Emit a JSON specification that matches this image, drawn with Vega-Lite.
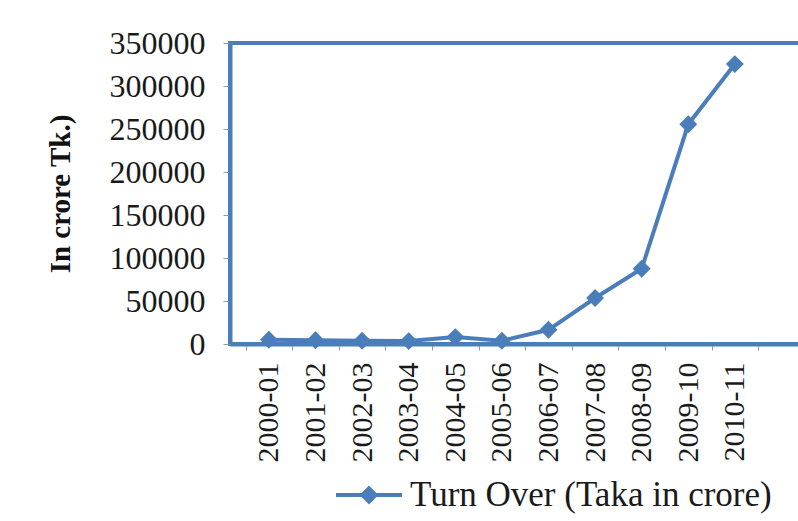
{
  "$schema": "https://vega.github.io/schema/vega-lite/v6.json",
  "autosize": "none",
  "padding": {"left": 230, "top": 43, "right": 0, "bottom": 177},
  "width": 575,
  "height": 301,
  "background": "white",
  "config": {
    "view": {"stroke": "#4a7ebb", "strokeWidth": 4},
    "font": "Liberation Serif"
  },
  "data": {
    "values": [
      {"year": "2000-01", "turnover": 5000, "series": "Turn Over (Taka in crore)"},
      {"year": "2001-02", "turnover": 4400, "series": "Turn Over (Taka in crore)"},
      {"year": "2002-03", "turnover": 3800, "series": "Turn Over (Taka in crore)"},
      {"year": "2003-04", "turnover": 3400, "series": "Turn Over (Taka in crore)"},
      {"year": "2004-05", "turnover": 8000, "series": "Turn Over (Taka in crore)"},
      {"year": "2005-06", "turnover": 3800, "series": "Turn Over (Taka in crore)"},
      {"year": "2006-07", "turnover": 16500, "series": "Turn Over (Taka in crore)"},
      {"year": "2007-08", "turnover": 53500, "series": "Turn Over (Taka in crore)"},
      {"year": "2008-09", "turnover": 87500, "series": "Turn Over (Taka in crore)"},
      {"year": "2009-10", "turnover": 255500, "series": "Turn Over (Taka in crore)"},
      {"year": "2010-11", "turnover": 325500, "series": "Turn Over (Taka in crore)"}
    ]
  },
  "mark": {
    "type": "line",
    "strokeWidth": 4,
    "point": {"filled": true, "shape": "diamond", "size": 320}
  },
  "encoding": {
    "x": {
      "field": "year",
      "type": "ordinal",
      "sort": null,
      "scale": {"type": "band", "paddingInner": 0, "paddingOuter": 0.67, "align": 0.25},
      "axis": {
        "title": null,
        "labelAngle": -90,
        "labelFontSize": 30,
        "labelColor": "#1a1a1a",
        "labelPadding": 12,
        "tickSize": 6,
        "tickColor": "#9a9a9a",
        "tickBand": "extent",
        "domainColor": "#4a7ebb",
        "domainWidth": 4,
        "grid": false
      }
    },
    "y": {
      "field": "turnover",
      "type": "quantitative",
      "scale": {"domain": [0, 350000], "nice": false},
      "axis": {
        "title": "In crore Tk.)",
        "titleFontSize": 29,
        "titleFontWeight": "bold",
        "titleColor": "#111111",
        "titlePadding": 34,
        "values": [0, 50000, 100000, 150000, 200000, 250000, 300000, 350000],
        "format": "d",
        "labelFontSize": 32,
        "labelColor": "#1a1a1a",
        "labelPadding": 18,
        "tickSize": 7,
        "tickColor": "#9a9a9a",
        "domainColor": "#4a7ebb",
        "domainWidth": 4,
        "grid": false
      }
    },
    "color": {
      "field": "series",
      "type": "nominal",
      "scale": {"range": ["#4a7ebb"]},
      "legend": {
        "title": null,
        "orient": "none",
        "legendX": 104,
        "legendY": 417,
        "labelFontSize": 35,
        "labelColor": "#1a1a1a",
        "labelOffset": 6,
        "symbolType": "M-1,0L1,0M0,-0.2L0.2,0L0,0.2L-0.2,0Z",
        "symbolSize": 4356,
        "symbolStrokeWidth": 4,
        "symbolStrokeColor": "#4a7ebb",
        "symbolFillColor": "#4a7ebb",
        "labelLimit": 0
      }
    }
  }
}
